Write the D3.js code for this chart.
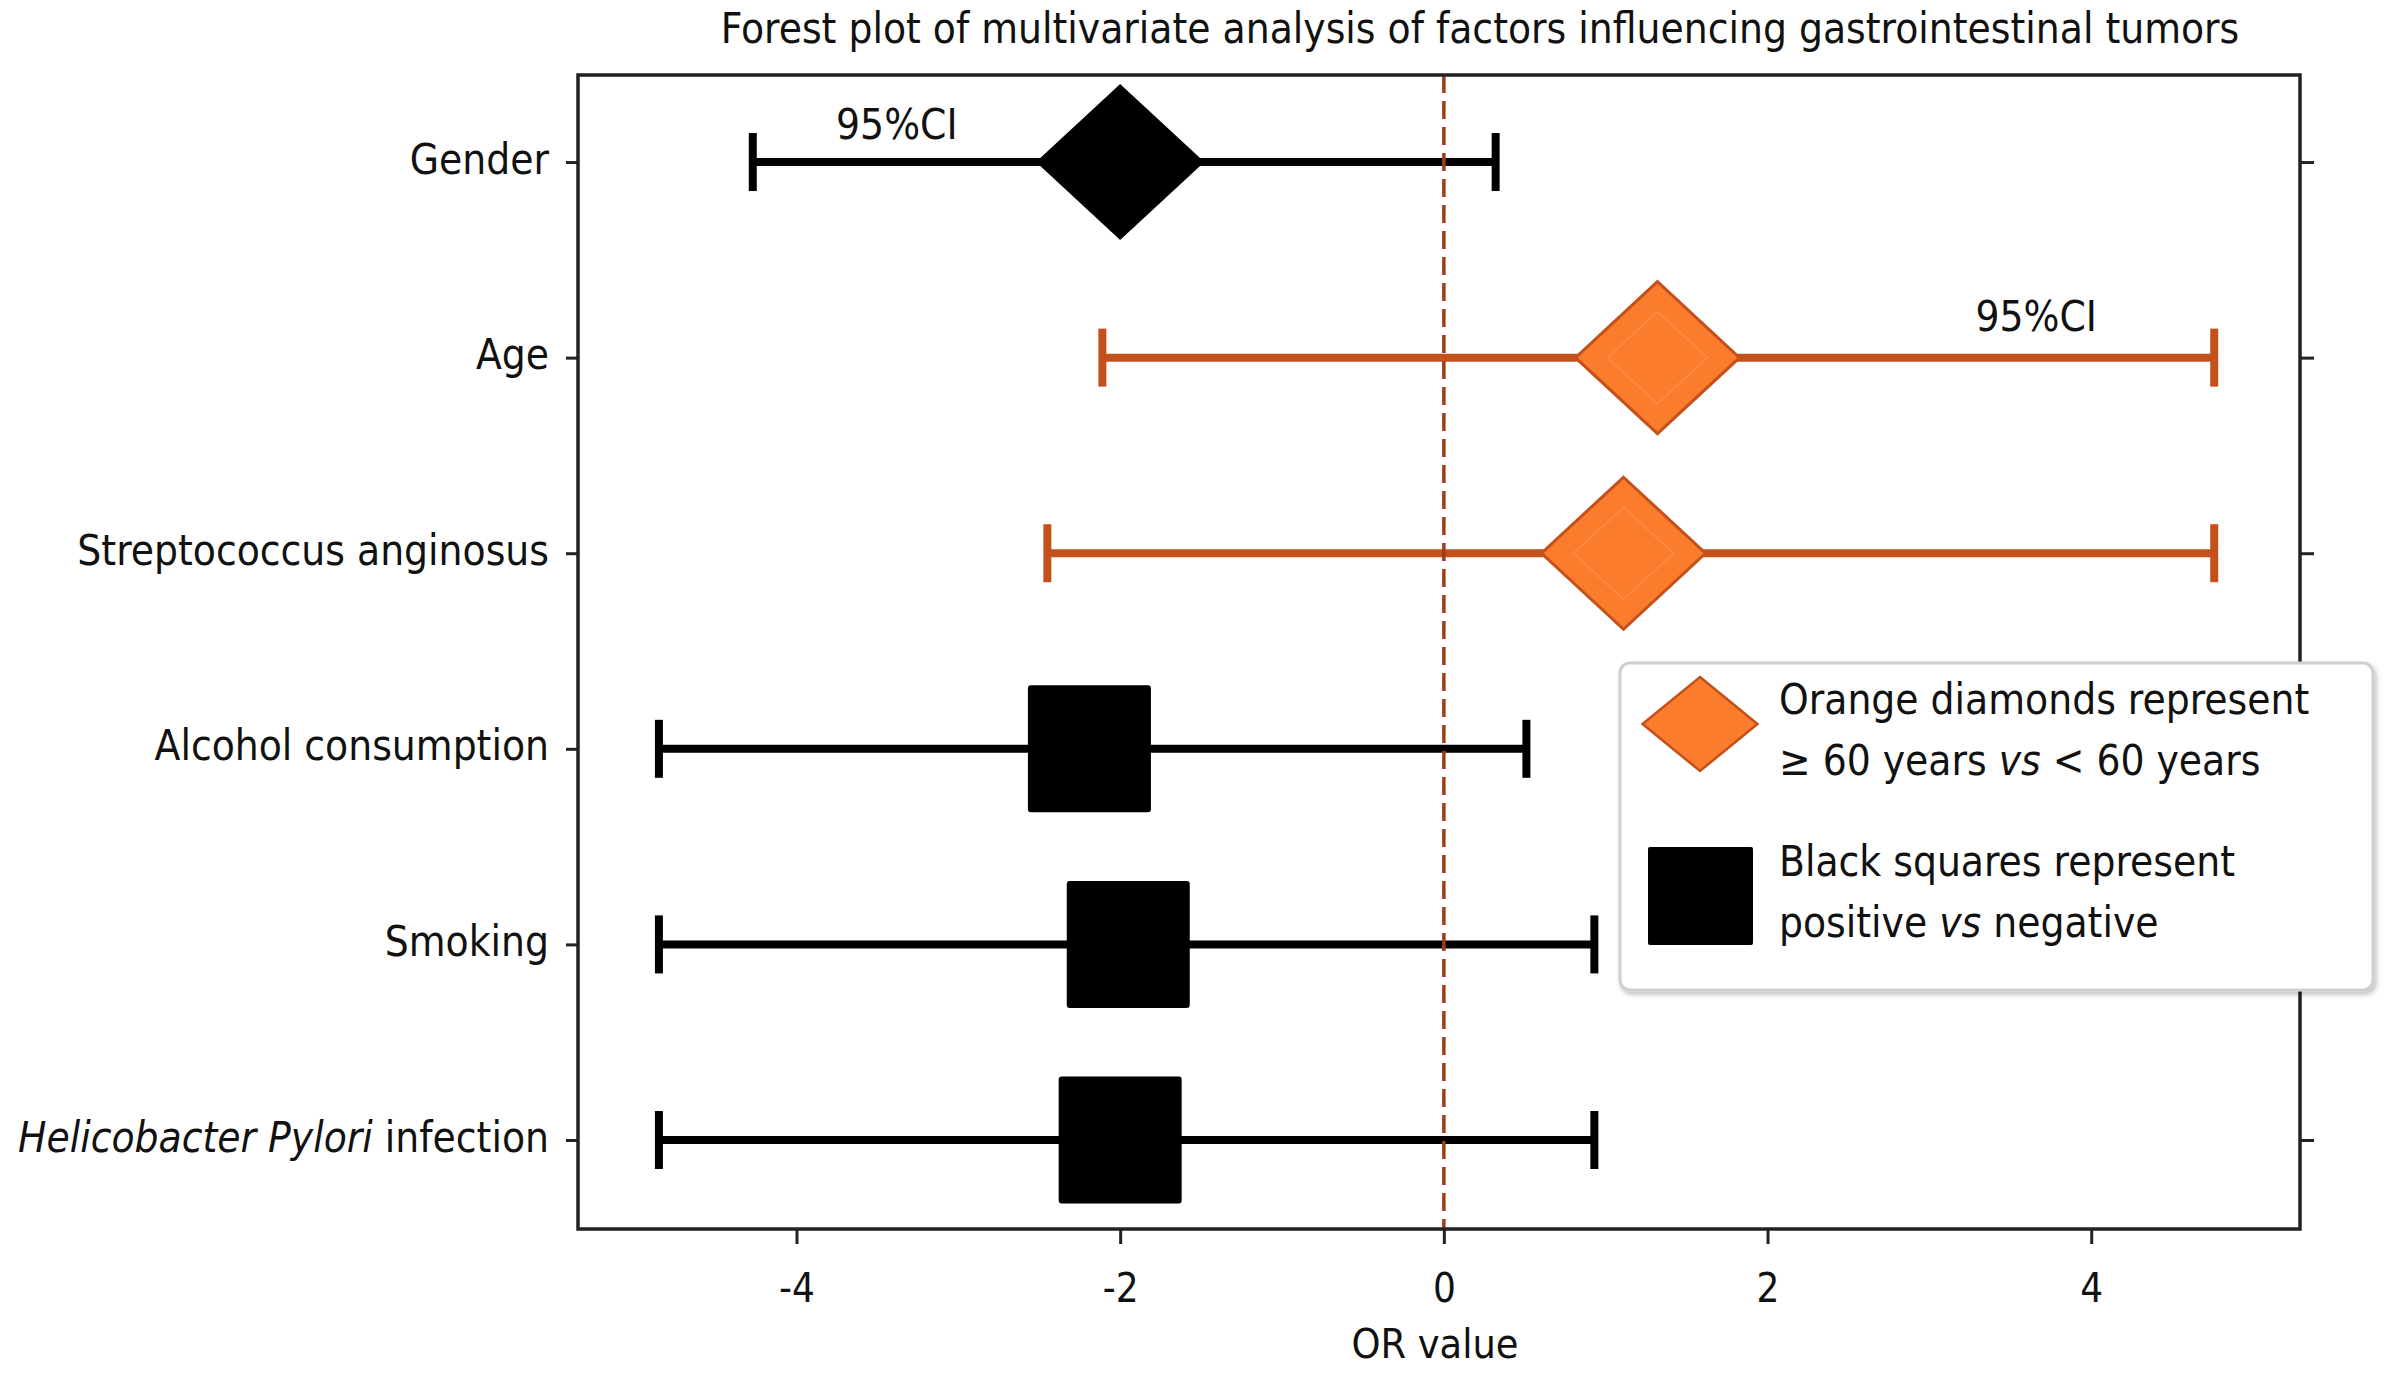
<!DOCTYPE html>
<html>
<head>
<meta charset="utf-8">
<script src="https://cdn.jsdelivr.net/npm/d3@7"></script>
<style>
  html, body { margin: 0; padding: 0; background: #ffffff; }
  svg { display: block; }
  text { font-family: 'DejaVu Sans Condensed', 'DejaVu Sans', sans-serif; font-stretch: condensed; fill: #111; }
</style>
</head>
<body>
<svg id="chart" width="2392" height="1375"></svg>
<script>
// ---------------- data ----------------
const categories = ["Gender", "Age", "Streptococcus anginosus", "Alcohol consumption", "Smoking", "Helicobacter Pylori infection"];
const orValues   = [-2.00, 1.32, 1.11, -2.19, -1.95, -2.00];
const ciLower    = [-4.27, -2.11, -2.45, -4.85, -4.85, -4.85];
const ciUpper    = [ 0.32,  4.76,  4.76,  0.51,  0.93,  0.93];
const markerShape = ["diamond", "diamond", "diamond", "square", "square", "square"];
const markerGroup = ["black", "orange", "orange", "black", "black", "black"];
const xTickValues = [-4, -2, 0, 2, 4];
const ciLabelX    = [-3.38, 3.66];
const ciLabelRow  = [0, 1];
const ciLabelText = ["95%CI", "95%CI"];
const titleText = "Forest plot of multivariate analysis of factors influencing gastrointestinal tumors";
const xAxisTitle = "OR value";
const legendLines = [
  [["Orange diamonds represent", false]],
  [["\u2265 60 years ", false], ["vs", true], [" < 60 years", false]],
  [["Black squares represent", false]],
  [["positive ", false], ["vs", true], [" negative", false]]
];

// ---------------- styles ----------------
const colors = {
  black: { fill: "#000000", stroke: "#000000", line: "#000000" },
  orange: { fill: "#fa7c2c", stroke: "#c4501a", line: "#c4501c" }
};
const W = 2392, H = 1375;
const plot = { left: 578, right: 2300, top: 75, bottom: 1229 };
const FS = 42;

const svg = d3.select("#chart");
svg.append("rect").attr("width", W).attr("height", H).attr("fill", "#ffffff");

const x = d3.scaleLinear().domain([-5.35, 5.29]).range([plot.left, plot.right]);
const y = d3.scaleLinear().domain([-0.445, 5.455]).range([plot.top, plot.bottom]);

const rows = categories.map((c, i) => ({
  cat: c, i, or: orValues[i], lo: ciLower[i], hi: ciUpper[i],
  shape: markerShape[i], group: markerGroup[i]
}));

// ---------------- error bars ----------------
const gBars = svg.append("g");
const capHalf = 29;
rows.forEach(r => {
  const c = colors[r.group];
  gBars.append("line")
    .attr("x1", x(r.lo)).attr("x2", x(r.hi))
    .attr("y1", y(r.i)).attr("y2", y(r.i))
    .attr("stroke", c.line).attr("stroke-width", 8);
  [r.lo, r.hi].forEach(v => {
    gBars.append("line")
      .attr("x1", x(v)).attr("x2", x(v))
      .attr("y1", y(r.i) - capHalf).attr("y2", y(r.i) + capHalf)
      .attr("stroke", c.line).attr("stroke-width", 8);
  });
});

// ---------------- reference line ----------------
svg.append("line")
  .attr("x1", x(0)).attr("x2", x(0))
  .attr("y1", plot.top).attr("y2", plot.bottom)
  .attr("stroke", "#9c3d1a").attr("stroke-width", 3.5)
  .attr("stroke-dasharray", "18,8");

// ---------------- markers ----------------
function diamondPath(cx, cy, w, h) {
  return `M${cx},${cy - h / 2}L${cx + w / 2},${cy}L${cx},${cy + h / 2}L${cx - w / 2},${cy}Z`;
}
const gMarks = svg.append("g");
rows.forEach(r => {
  const c = colors[r.group];
  const cx = x(r.or), cy = y(r.i);
  if (r.shape === "diamond") {
    gMarks.append("path")
      .attr("d", diamondPath(cx, cy, 164, 152))
      .attr("fill", c.fill).attr("stroke", c.stroke).attr("stroke-width", 3)
      .attr("stroke-linejoin", "miter");
    if (r.group === "orange") {
      gMarks.append("path")
        .attr("d", diamondPath(cx, cy, 100, 92))
        .attr("fill", "none").attr("stroke", "#ff9a5a").attr("stroke-width", 1.5).attr("opacity", 0.6);
    }
  } else {
    gMarks.append("rect")
      .attr("x", cx - 61.5).attr("y", cy - 63.5)
      .attr("width", 123).attr("height", 127)
      .attr("rx", 3)
      .attr("fill", c.fill);
  }
});

// ---------------- CI labels ----------------
ciLabelText.forEach((t, k) => {
  svg.append("text")
    .attr("x", x(ciLabelX[k]))
    .attr("y", y(ciLabelRow[k]) - (k === 0 ? 23 : 27))
    .attr("text-anchor", "middle")
    .attr("font-size", FS)
    .text(t);
});

// ---------------- axes ----------------
const axisColor = "#222222";
const leftAxis = svg.append("g")
  .attr("transform", `translate(${plot.left},0)`)
  .call(d3.axisLeft(y).tickValues(d3.range(categories.length)).tickSize(12).tickPadding(17)
    .tickFormat(i => categories[i]));
leftAxis.select(".domain").remove();
leftAxis.selectAll(".tick line").attr("stroke", axisColor).attr("stroke-width", 3);
leftAxis.selectAll(".tick text")
  .attr("font-size", FS).attr("fill", "#111").attr("dy", 11)
  .style("font-family", "'DejaVu Sans Condensed', 'DejaVu Sans', sans-serif")
  .each(function (i) {
    if (categories[i].startsWith("Helicobacter Pylori")) {
      const t = d3.select(this);
      t.text(null);
      t.append("tspan").attr("font-style", "italic").text("Helicobacter Pylori");
      t.append("tspan").text(" infection");
    }
  });

const rightAxis = svg.append("g")
  .attr("transform", `translate(${plot.right},0)`)
  .call(d3.axisRight(y).tickValues(d3.range(categories.length)).tickSize(14).tickFormat(""));
rightAxis.select(".domain").remove();
rightAxis.selectAll(".tick line").attr("stroke", axisColor).attr("stroke-width", 3);

const bottomAxis = svg.append("g")
  .attr("transform", `translate(0,${plot.bottom})`)
  .call(d3.axisBottom(x).tickValues(xTickValues).tickSize(15)
    .tickFormat(d => (d < 0 ? "-" + Math.abs(d) : String(d))));
bottomAxis.select(".domain").remove();
bottomAxis.selectAll(".tick line").attr("stroke", axisColor).attr("stroke-width", 3);
bottomAxis.selectAll(".tick text")
  .attr("font-size", 40).attr("fill", "#111").attr("y", 73).attr("dy", 0)
  .style("font-family", "'DejaVu Sans Condensed', 'DejaVu Sans', sans-serif");

// frame
svg.append("rect")
  .attr("x", plot.left).attr("y", plot.top)
  .attr("width", plot.right - plot.left).attr("height", plot.bottom - plot.top)
  .attr("fill", "none").attr("stroke", axisColor).attr("stroke-width", 3.5);

// titles
svg.append("text")
  .attr("x", 1480).attr("y", 43)
  .attr("text-anchor", "middle").attr("font-size", FS)
  .text(titleText);
svg.append("text")
  .attr("x", (plot.left + plot.right) / 2 - 4).attr("y", 1358)
  .attr("text-anchor", "middle").attr("font-size", 41)
  .text(xAxisTitle);

// ---------------- legend ----------------
const defs = svg.append("defs");
const f = defs.append("filter").attr("id", "shadow").attr("x", "-5%").attr("y", "-5%").attr("width", "110%").attr("height", "115%");
f.append("feDropShadow").attr("dx", 2).attr("dy", 3).attr("stdDeviation", 2.5).attr("flood-color", "#000").attr("flood-opacity", 0.25);

const lg = svg.append("g");
lg.append("rect")
  .attr("x", 1620).attr("y", 663).attr("width", 753).attr("height", 327)
  .attr("rx", 10).attr("fill", "#ffffff").attr("stroke", "#cfcfcf").attr("stroke-width", 3)
  .attr("filter", "url(#shadow)");
lg.append("path")
  .attr("d", diamondPath(1700, 724, 115, 94))
  .attr("fill", colors.orange.fill).attr("stroke", colors.orange.stroke).attr("stroke-width", 2.5);
lg.append("rect")
  .attr("x", 1648).attr("y", 847).attr("width", 105).attr("height", 98)
  .attr("rx", 2).attr("fill", "#000");
const legendBaselines = [714, 775, 876, 937];
legendLines.forEach((parts, k) => {
  const t = lg.append("text").attr("x", 1779).attr("y", legendBaselines[k]).attr("font-size", FS);
  parts.forEach(([s, it]) => {
    const sp = t.append("tspan").text(s);
    if (it) sp.attr("font-style", "italic");
  });
});
</script>
</body>
</html>
